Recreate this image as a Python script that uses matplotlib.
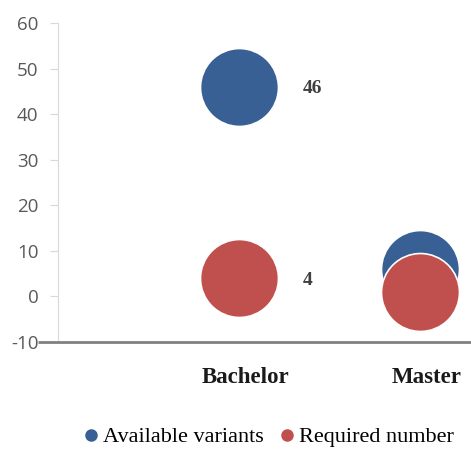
import matplotlib
matplotlib.use("Agg")
import matplotlib.pyplot as plt
from matplotlib.lines import Line2D

categories = ["Bachelor", "Master"]
available = [46, 6]
required = [4, 1]
labels_available = ["46", ""]
labels_required = ["4", ""]
yticks = [-10, 0, 10, 20, 30, 40, 50, 60]

blue = "#386094"
red = "#C0504D"

fig = plt.figure(figsize=(4.71, 4.75), dpi=100)
ax = fig.add_axes([0.123, 0.28, 0.877, 0.6716])

xs = [1, 2]
ax.scatter(xs, available, s=3150, color=blue, edgecolor="white", linewidth=1.2, zorder=3)
ax.scatter(xs, required, s=3150, color=red, edgecolor="white", linewidth=1.2, zorder=4)

for x, v, t in zip(xs, available, labels_available):
    if t:
        ax.text(x + 0.405, v - 0.4, t, fontsize=14, fontweight="bold", family="Liberation Serif",
                color="#404040", ha="center", va="center")
for x, v, t in zip(xs, required, labels_required):
    if t:
        ax.text(x + 0.38, v - 0.4, t, fontsize=14, fontweight="bold", family="Liberation Serif",
                color="#404040", ha="center", va="center")

ax.set_xlim(0, 2.28)
ax.set_ylim(-10, 60)
ax.set_yticks(yticks)
ax.set_yticklabels([str(t) for t in yticks], family="Open Sans", fontsize=13.5, color="#595959")
ax.tick_params(axis="y", length=6, color="#D9D9D9", pad=8)
ax.set_xticks([])

for s in ["top", "right"]:
    ax.spines[s].set_visible(False)
ax.spines["left"].set_color("#D9D9D9")
ax.spines["bottom"].set_visible(False)
ax.plot([-0.11, 2.28], [-10, -10], color="#808080", lw=2, clip_on=False, zorder=5,
        solid_capstyle="butt")

for x, c in zip(xs, categories):
    ax.text(x + 0.035, -17.8, c, fontsize=16.5, fontweight="bold", family="Liberation Serif",
            color="#1a1a1a", ha="center", va="center", transform=ax.transData)

handles = [Line2D([], [], marker="o", ls="", color=blue, markersize=8),
           Line2D([], [], marker="o", ls="", color=red, markersize=8)]
fig.legend(handles, ["Available variants", "Required number"], loc="center",
           bbox_to_anchor=(0.563, 0.08), ncol=2, frameon=False, handletextpad=-0.1,
           columnspacing=0.4, handlelength=1.3,
           prop={"family": "Liberation Serif", "size": 16})

fig.savefig("out.png", dpi=100)
